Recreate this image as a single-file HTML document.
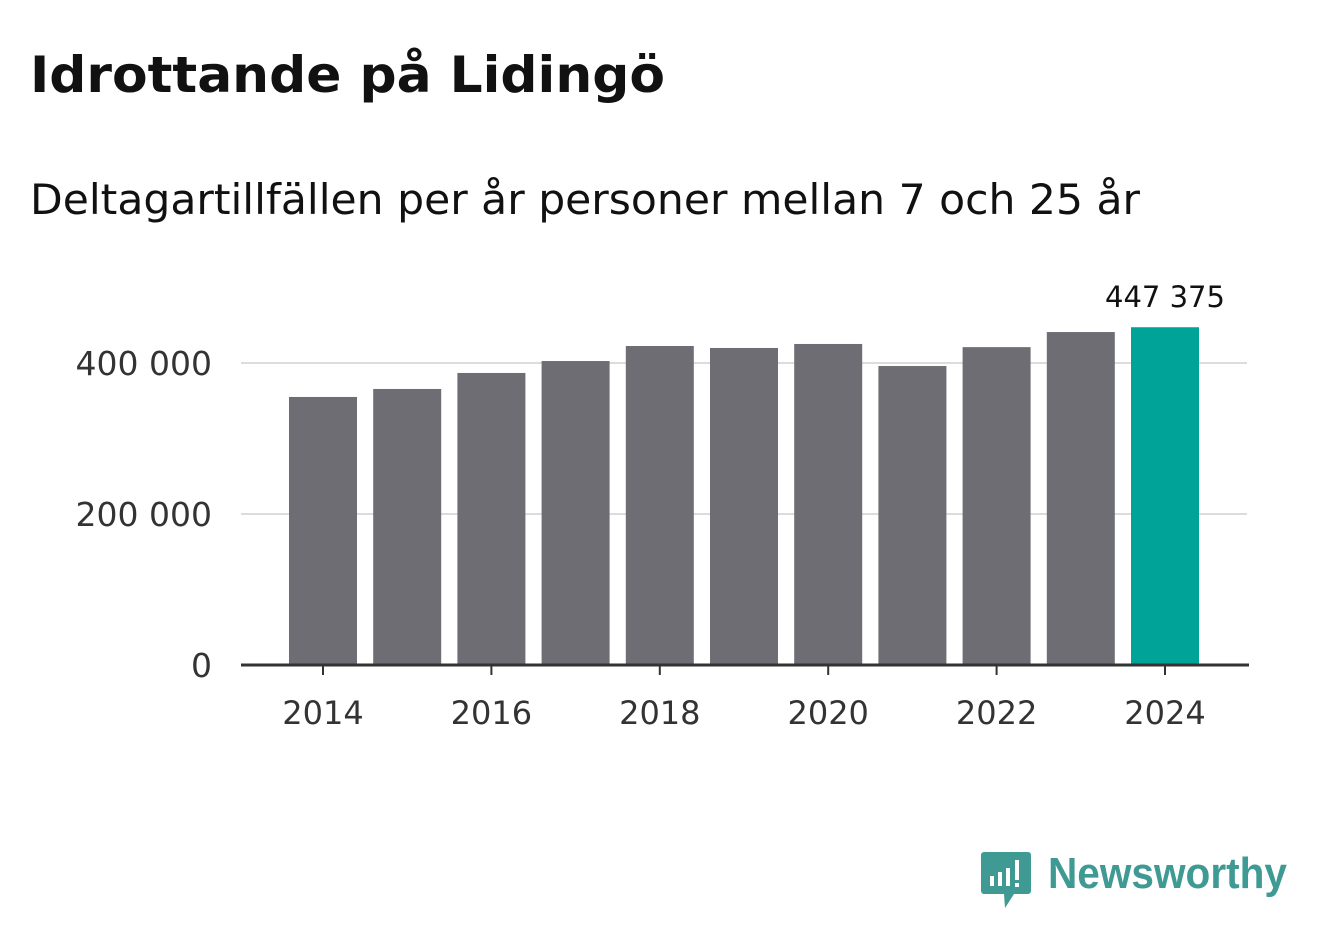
<!DOCTYPE html>
<html><head><meta charset="utf-8"><style>
body{margin:0;width:1322px;height:939px;background:#fff;overflow:hidden;font-family:"Liberation Sans","DejaVu Sans",sans-serif;}
</style></head><body>
<svg width="1322" height="939">
<text x="30" y="92" font-size="50" font-weight="bold" fill="#111" font-family="DejaVu Sans, sans-serif" textLength="635" lengthAdjust="spacingAndGlyphs">Idrottande på Lidingö</text>
<text x="30" y="214" font-size="42" fill="#111" font-family="DejaVu Sans, sans-serif" textLength="1110" lengthAdjust="spacingAndGlyphs">Deltagartillfällen per år personer mellan 7 och 25 år</text>
<g id="grid"></g><g id="bars"></g><g id="axes"></g>
<g>
<path d="M984 852 h44 a3 3 0 0 1 3 3 v36 a3 3 0 0 1 -3 3 h-14 l-9 14 l-1 -14 h-20 a3 3 0 0 1 -3 -3 v-36 a3 3 0 0 1 3 -3z" fill="#3f9a94"/>
<rect x="990" y="876" width="4" height="10" fill="#fff"/><rect x="998" y="872" width="4" height="14" fill="#fff"/><rect x="1006" y="868" width="4" height="18" fill="#fff"/><rect x="1015" y="860" width="4" height="20" fill="#fff"/><rect x="1015" y="883" width="4" height="4" fill="#fff"/>
<text x="1048" y="888" font-size="44" font-weight="bold" fill="#3f9a94" font-family="Liberation Sans, sans-serif" textLength="239" lengthAdjust="spacingAndGlyphs">Newsworthy</text>
</g>
</svg>
<script>
const years=[2014,2015,2016,2017,2018,2019,2020,2021,2022,2023,2024];
const values=[355000,365600,386800,402600,422500,419900,425200,396000,421000,441000,447375];
const yTicks=[0,200000,400000];
const yTickLabels=["0","200 000","400 000"];
const xTicks=[2014,2016,2018,2020,2022,2024];
const NS="http://www.w3.org/2000/svg";
const y0=665,pxPer=(665-363)/400000;
const ys=v=>y0-v*pxPer;
const xs=yr=>323+(yr-2014)*84.2;
function mk(t,a,p){const e=document.createElementNS(NS,t);for(const k in a)e.setAttribute(k,a[k]);document.getElementById(p).appendChild(e);return e;}
yTicks.forEach((v,i)=>{
 if(v>0){const l=mk('line',{x1:241,x2:1247,y1:ys(v),y2:ys(v),stroke:'#dcdcdc','stroke-width':2},'grid');
 
 }
 const t=mk('text',{x:212,y:ys(v)+12,'text-anchor':'end','font-size':33,fill:'#333','font-family':'DejaVu Sans, sans-serif'},'axes');
 t.textContent=yTickLabels[i];
 
 
});
years.forEach((yr,i)=>{
 const last=i===years.length-1;
 const r=mk('rect',{x:xs(yr)-34,y:ys(values[i]),width:68,height:y0-ys(values[i]),fill:last?'#00a398':'#6e6d73'},'bars');
 
 
 if(last){const t=mk('text',{x:xs(yr),y:ys(values[i])-20,'text-anchor':'middle','font-size':29,fill:'#111','font-family':'DejaVu Sans, sans-serif'},'bars');
 t.textContent=values[i].toLocaleString('en').replace(/,/g,' ');
 
 }
});
const ax=mk('line',{x1:241,x2:1249,y1:y0,y2:y0,stroke:'#333','stroke-width':3},'axes');


xTicks.forEach(yr=>{
 const tk=mk('line',{x1:xs(yr),x2:xs(yr),y1:y0,y2:y0+10,stroke:'#333','stroke-width':2},'axes');
 
 
 const t=mk('text',{x:xs(yr),y:724,'text-anchor':'middle','font-size':32,fill:'#333','font-family':'DejaVu Sans, sans-serif'},'axes');
 t.textContent=yr;
 
 
});
</script>
</body></html>
